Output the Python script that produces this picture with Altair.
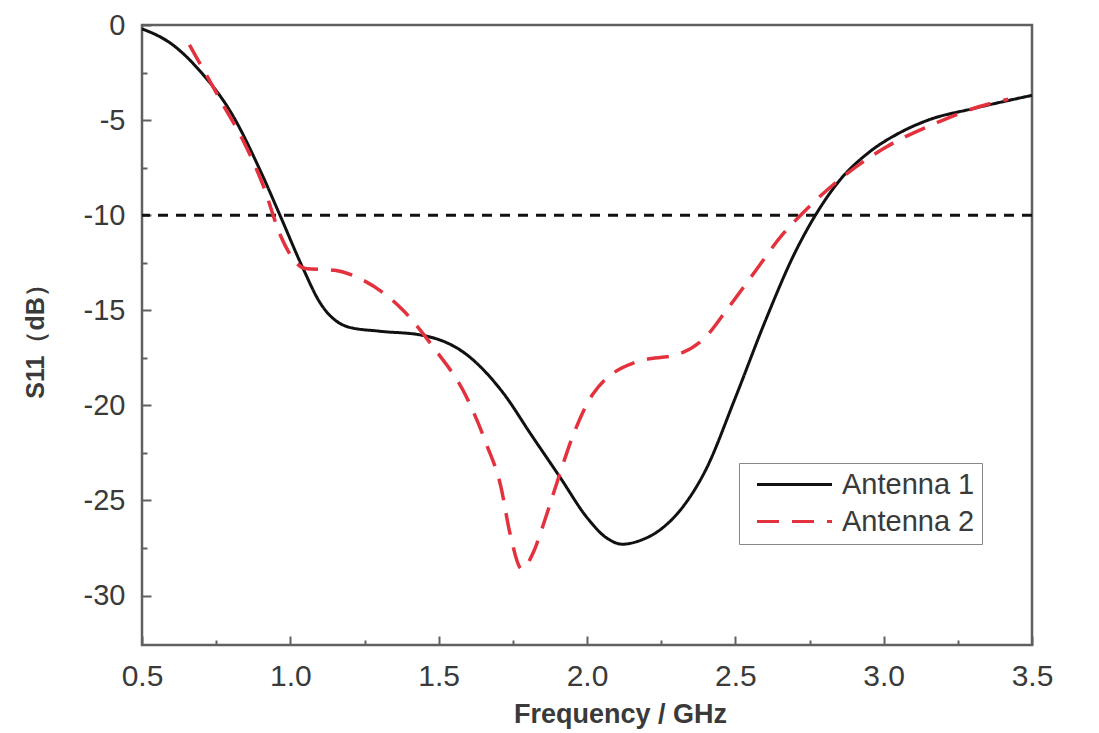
import altair as alt
import pandas as pd

# Antenna 1 (solid black)
a1_freq = [0.5, 0.6, 0.7, 0.8, 0.9, 0.965, 1.04, 1.1, 1.2, 1.3, 1.44, 1.6, 1.72, 1.81,
           1.91, 2.0, 2.06, 2.12, 2.18, 2.25, 2.32, 2.4, 2.5, 2.6, 2.7, 2.77, 2.85, 2.95,
           3.05, 3.15, 3.3, 3.5]
a1_s11 = [-0.2, -1.0, -2.5, -4.6, -7.7, -10.0, -12.7, -14.6, -15.9, -16.1, -16.3, -17.4,
          -19.4, -21.5, -23.8, -25.9, -26.9, -27.3, -27.1, -26.5, -25.4, -23.4, -19.6,
          -15.6, -12.0, -10.0, -8.2, -6.7, -5.7, -5.0, -4.4, -3.7]

# Antenna 2 (dashed red)
a2_freq = [0.66, 0.77, 0.84, 0.91, 0.965, 1.05, 1.15, 1.23, 1.38, 1.48, 1.595, 1.66, 1.71,
           1.74, 1.78, 1.82, 1.85, 1.9, 1.955, 2.02, 2.17, 2.31, 2.4, 2.47, 2.56, 2.66,
           2.72, 2.83, 3.01, 3.17, 3.32, 3.42]
a2_s11 = [-1.05, -4.1, -6.05, -8.5, -11.0, -12.8, -12.9, -13.3, -15.0, -16.9, -19.6, -22.0,
          -24.3, -26.7, -28.6, -27.7, -26.4, -24.0, -21.5, -19.4, -17.7, -17.3, -16.4,
          -15.0, -13.1, -11.0, -10.0, -8.4, -6.4, -5.2, -4.3, -3.9]

series_names = ["Antenna 1", "Antenna 2"]
threshold = [-10]

x_major = [0.5, 1.0, 1.5, 2.0, 2.5, 3.0, 3.5]
x_minor = [0.75, 1.25, 1.75, 2.25, 2.75, 3.25]
y_major = [0, -5, -10, -15, -20, -25, -30]
y_minor = [-2.5, -7.5, -12.5, -17.5, -22.5, -27.5]

df1 = pd.DataFrame({"f": a1_freq, "s": a1_s11, "Series": series_names[0]})
df2 = pd.DataFrame({"f": a2_freq, "s": a2_s11, "Series": series_names[1]})
dfr = pd.DataFrame({"s": threshold})

FONT = "Liberation Sans"
TXT = "#3a3a3a"
AX = "#606060"
xdom = [0.5, 3.5]
ydom = [-32.6, 0]


def legend():
    return alt.Legend(title=None, orient="none", legendX=597, legendY=438,
                      symbolType="M-3.75,0L3.75,0", symbolSize=400, symbolStrokeWidth=3,
                      symbolOffset=34, labelOffset=33,
                      labelFontSize=29, labelFont=FONT, labelColor=TXT,
                      strokeColor="#888888", fillColor="white", padding=7,
                      rowPadding=7)


color = alt.Color("Series:N", scale=alt.Scale(domain=series_names, range=["#111111", "#e3323e"]),
                  legend=legend())
dash = alt.StrokeDash("Series:N", scale=alt.Scale(domain=series_names, range=[[1, 0], [22, 13]]),
                      legend=legend())

major_x_axis = alt.Axis(values=x_major, format=".1f", orient="bottom", domain=False,
                        tickSize=9, offset=-9, tickWidth=2, tickColor=AX,
                        labelPadding=16, labelFontSize=30, labelFont=FONT, labelColor=TXT,
                        labelFlush=False,
                        title="Frequency / GHz", titleFont=FONT, titleFontSize=27,
                        titleFontWeight="bold", titleColor=TXT, titlePadding=10,
                        titleX=478, grid=False)
major_y_axis = alt.Axis(values=y_major, orient="left", domain=False,
                        labelExpr="'' + datum.value",
                        tickSize=9, offset=-9, tickWidth=2, tickColor=AX,
                        labelPadding=17, labelFontSize=29, labelFont=FONT, labelColor=TXT,
                        labelFlush=False,
                        title="S11（dB）", titleFont=FONT, titleFontSize=25,
                        titleFontWeight="bold", titleColor=TXT, titlePadding=35,
                        grid=False)
minor_x_axis = alt.Axis(values=x_minor, orient="bottom", domain=False, labels=False,
                        tickSize=5, offset=-5, tickWidth=2, tickColor=AX,
                        title=None, grid=False)
minor_y_axis = alt.Axis(values=y_minor, orient="left", domain=False, labels=False,
                        tickSize=5, offset=-5, tickWidth=2, tickColor=AX,
                        title=None, grid=False)

line1 = alt.Chart(df1).mark_line(strokeWidth=3, interpolate="monotone").encode(
    x=alt.X("f:Q", scale=alt.Scale(domain=xdom, nice=False, zero=False), axis=major_x_axis),
    y=alt.Y("s:Q", scale=alt.Scale(domain=ydom, nice=False, zero=False), axis=major_y_axis),
    color=color, strokeDash=dash,
)
line2 = alt.Chart(df2).mark_line(strokeWidth=3.5, interpolate="monotone").encode(
    x=alt.X("f:Q", scale=alt.Scale(domain=xdom, nice=False, zero=False), axis=minor_x_axis),
    y=alt.Y("s:Q", scale=alt.Scale(domain=ydom, nice=False, zero=False), axis=minor_y_axis),
    color=color, strokeDash=dash,
)
ref = alt.Chart(dfr).mark_rule(color="#111111", strokeWidth=3, strokeDash=[10, 8]).encode(
    y=alt.Y("s:Q", scale=alt.Scale(domain=ydom, nice=False, zero=False), axis=None),
)

chart = alt.layer(ref, line1, line2).resolve_axis(x="independent", y="independent").properties(
    width=890, height=620, background="white",
    autosize=alt.AutoSizeParams(type="none"),
    padding={"left": 142, "top": 25, "right": 67, "bottom": 88},
).configure_view(stroke=AX, strokeWidth=2.5)

chart.save("out.html", embed_options={"renderer": "svg", "actions": False})
